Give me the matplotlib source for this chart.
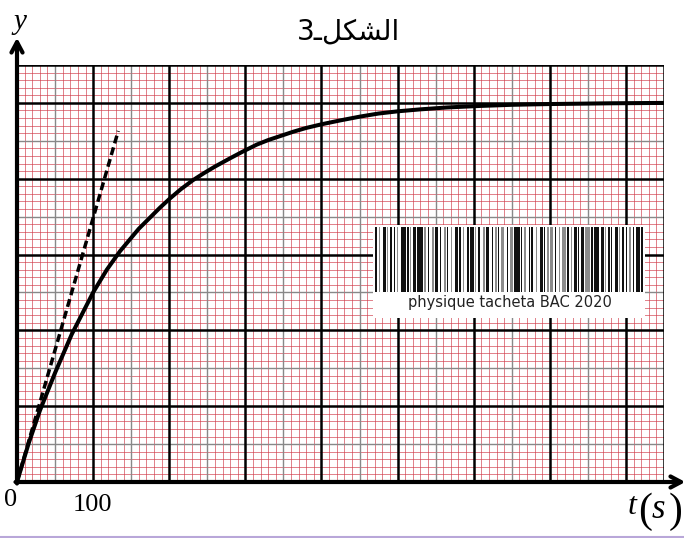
import numpy as np
import matplotlib.pyplot as plt
from matplotlib.lines import Line2D

# courbe y = f(t) relevée sur papier millimétré (t en s, y en carreaux)
t_s = [0, 15, 30, 50, 72, 100, 118, 135, 160, 188, 201, 215, 231, 245, 260,
       280, 297, 315, 330, 345, 363, 380, 401, 425, 451, 475, 501, 530, 565,
       608, 650, 700, 780, 850]
y_val = [0, 0.50, 0.94, 1.44, 1.95, 2.50, 2.80, 3.04, 3.34, 3.62, 3.74, 3.86,
         3.98, 4.07, 4.16, 4.27, 4.36, 4.45, 4.51, 4.56, 4.62, 4.67, 4.72,
         4.77, 4.82, 4.86, 4.89, 4.915, 4.94, 4.96, 4.975, 4.985, 4.995, 5.00]

# tangente à l'origine
tan_t = [0, 133]
tan_y = [0, 4.63]

t_max, y_max = 850, 5.5

# code-barres : largeur des barres, des espaces, barre grise (1) ou noire (0)
bar_w = [2, 1, 3, 1, 2, 1, 1, 4, 2, 1, 3, 5, 2, 1, 2, 3, 1, 2, 1, 1, 3, 2, 1, 2,
         4, 1, 1, 2, 3, 1, 2, 1, 2, 1, 3, 5, 1, 2, 1, 2, 1, 3, 1, 2, 2, 1, 1, 3,
         2, 1, 2, 1, 3, 4, 2, 5, 3, 1, 2, 1, 3, 1, 2, 1, 2, 1, 3, 2]
gap_w = [2, 2, 1, 2, 1, 2, 3, 1, 1, 2, 1, 1, 2, 2, 1, 2, 2, 1, 3, 2, 1, 2, 2, 1,
         1, 2, 3, 1, 2, 2, 1, 2, 3, 2, 1, 1, 2, 2, 1, 3, 2, 1, 2, 1, 2, 3, 2, 1,
         2, 2, 1, 2, 1, 1, 1, 1, 1, 2, 1, 2, 1, 2, 1, 2, 2, 2, 1]
bar_gray = [0, 1, 0, 1, 0, 0, 1, 0, 0, 1, 0, 0, 1, 0, 1, 0, 0, 1, 0, 1, 0, 0, 1, 0,
            0, 1, 0, 1, 0, 0, 1, 0, 1, 0, 1, 0, 0, 1, 0, 0, 1, 0, 0, 1, 1, 0, 1, 1,
            0, 1, 0, 0, 0, 1, 0, 0, 0, 1, 0, 0, 0, 1, 0, 0, 1, 0, 0, 0]

W, H = 684, 538
fig = plt.figure(figsize=(W / 100, H / 100), dpi=100)
ax = fig.add_axes([17 / W, 56 / H, 647 / W, 417 / H])
ax.set_xlim(0, t_max)
ax.set_ylim(0, y_max)
ax.axis('off')

# papier millimétré
for xv in np.arange(10, t_max, 10):
    if xv % 50:
        ax.axvline(xv, color='#d03a48', lw=0.6, alpha=0.75, zorder=1)
for yv in np.arange(0.1, y_max, 0.1):
    if round(yv * 10) % 5:
        ax.axhline(yv, color='#d03a48', lw=0.6, alpha=0.75, zorder=1)
for xv in np.arange(50, t_max, 100):
    ax.axvline(xv, color='#888888', lw=1.0, zorder=2)
for yv in np.arange(0.5, y_max, 1):
    ax.axhline(yv, color='#888888', lw=1.0, zorder=2)
for xv in np.arange(100, t_max + 1, 100):
    ax.axvline(xv, color='black', lw=1.8, zorder=3)
ax.axvline(t_max, color='black', lw=1.8, zorder=3)
for yv in np.arange(1, 6):
    ax.axhline(yv, color='black', lw=1.8, zorder=3)
ax.axhline(y_max, color='black', lw=1.8, zorder=3)

# axes fléchés
ax.annotate('', xy=(0, 5.86), xytext=(0, -0.02),
            arrowprops=dict(arrowstyle='->,head_length=0.75,head_width=0.4',
                            lw=3, color='black', shrinkA=0, shrinkB=0),
            annotation_clip=False, zorder=5)
ax.annotate('', xy=(878, 0), xytext=(-2, 0),
            arrowprops=dict(arrowstyle='->,head_length=0.75,head_width=0.4',
                            lw=3, color='black', shrinkA=0, shrinkB=0),
            annotation_clip=False, zorder=5)

ax.plot(t_s, y_val, color='black', lw=2.9, solid_capstyle='round',
        solid_joinstyle='round', zorder=6)
ax.plot(tan_t, tan_y, color='black', lw=2.5, dashes=(2.3, 1.2), zorder=6)

# textes
def px(x, y):
    return x / W, 1 - y / H

fig.text(*px(349, 32), '3\u0640\ufede\ufedc\ufeb8\ufedf\ufe8d', fontsize=20,
         family=['DejaVu Sans'], ha='center', va='center')
fig.text(*px(20, 22), 'y', fontsize=21, family='Liberation Serif',
         style='italic', ha='center', va='center')
fig.text(*px(11, 500), '0', fontsize=19, family='Liberation Serif',
         ha='center', va='center')
fig.text(*px(92, 505), '100', fontsize=19, family='Liberation Serif',
         ha='center', va='center')
fig.text(*px(632, 507), 't', fontsize=23, family='Liberation Serif',
         style='italic', ha='center', va='center')
fig.text(*px(645, 512), '(', fontsize=30, family='Liberation Serif',
         ha='center', va='center')
fig.text(*px(658, 509), 's', fontsize=25, family='Liberation Serif',
         style='italic', ha='center', va='center')
fig.text(*px(676, 512), ')', fontsize=30, family='Liberation Serif',
         ha='center', va='center')

# étiquette code-barres
bc = fig.add_axes([373 / W, 1 - 318 / H, 272 / W, 93 / H], zorder=10)
bc.set_xlim(0, 272)
bc.set_ylim(0, 93)
bc.set_xticks([])
bc.set_yticks([])
for s in bc.spines.values():
    s.set_visible(False)
bc.set_facecolor('white')

total = sum(bar_w) + sum(gap_w[:len(bar_w) - 1])
scale = 268 / total
pos = 2.0
for i, w in enumerate(bar_w):
    bc.bar(pos, 65, width=w * scale, bottom=26, align='edge',
           color='#8c8c8c' if bar_gray[i] else '#111111', lw=0)
    pos += w * scale
    if i < len(gap_w):
        pos += gap_w[i] * scale
bc.text(137, 16, 'physique tacheta BAC 2020', fontsize=10.5,
        family='DejaVu Sans', ha='center', va='center', color='#222222')

fig.add_artist(Line2D([0, 1], [0.6 / H, 0.6 / H], color='#b9a7d9', lw=1.5))

fig.savefig('out.png', dpi=100)
